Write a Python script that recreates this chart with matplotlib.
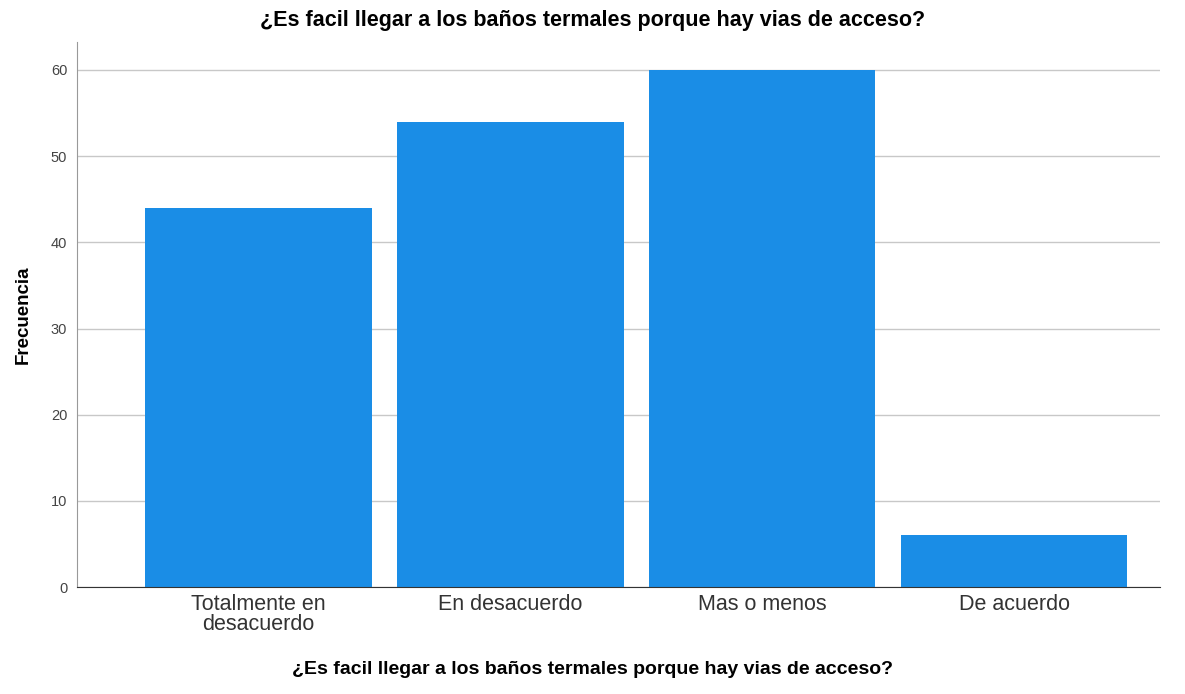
import matplotlib.pyplot as plt

plt.rcParams['font.family'] = ['Liberation Sans', 'DejaVu Sans']

# Datos
categorias = ["Totalmente en\ndesacuerdo", "En desacuerdo", "Mas o menos", "De acuerdo"]
frecuencias = [44, 54, 60, 6]
titulo = "¿Es facil llegar a los baños termales porque hay vias de acceso?"

fig = plt.figure(figsize=(11.85, 6.94), dpi=100)
ax = fig.add_axes([0.065, 0.154, 0.914, 0.785])

x = list(range(len(categorias)))
ax.bar(x, frecuencias, width=0.9, color="#1A8DE6", zorder=2)

ax.set_xlim(-0.72, 3.58)
ax.set_ylim(0, 63.2)
ax.set_yticks([0, 10, 20, 30, 40, 50, 60])
ax.set_xticks(x)
ax.set_xticklabels(categorias, fontsize=15.5, color="#333333", linespacing=0.95)
ax.tick_params(axis="y", labelsize=10.5, colors="#444444", length=0, pad=7)
ax.tick_params(axis="x", length=0, pad=5)
ax.grid(axis="y", color="#c8c8c8", linewidth=1, zorder=0)

for s in ["top", "right"]:
    ax.spines[s].set_visible(False)
ax.spines["left"].set_color("#999999")
ax.spines["bottom"].set_color("#333333")

ax.set_ylabel("Frecuencia", fontsize=13.5, fontweight="bold", labelpad=14)
ax.set_xlabel(titulo, fontsize=14, fontweight="bold")
ax.xaxis.set_label_coords(0.476, -0.135)
fig.suptitle(titulo, fontsize=15.5, fontweight="bold", y=0.985)

fig.savefig("out.png", dpi=100, facecolor="white")
